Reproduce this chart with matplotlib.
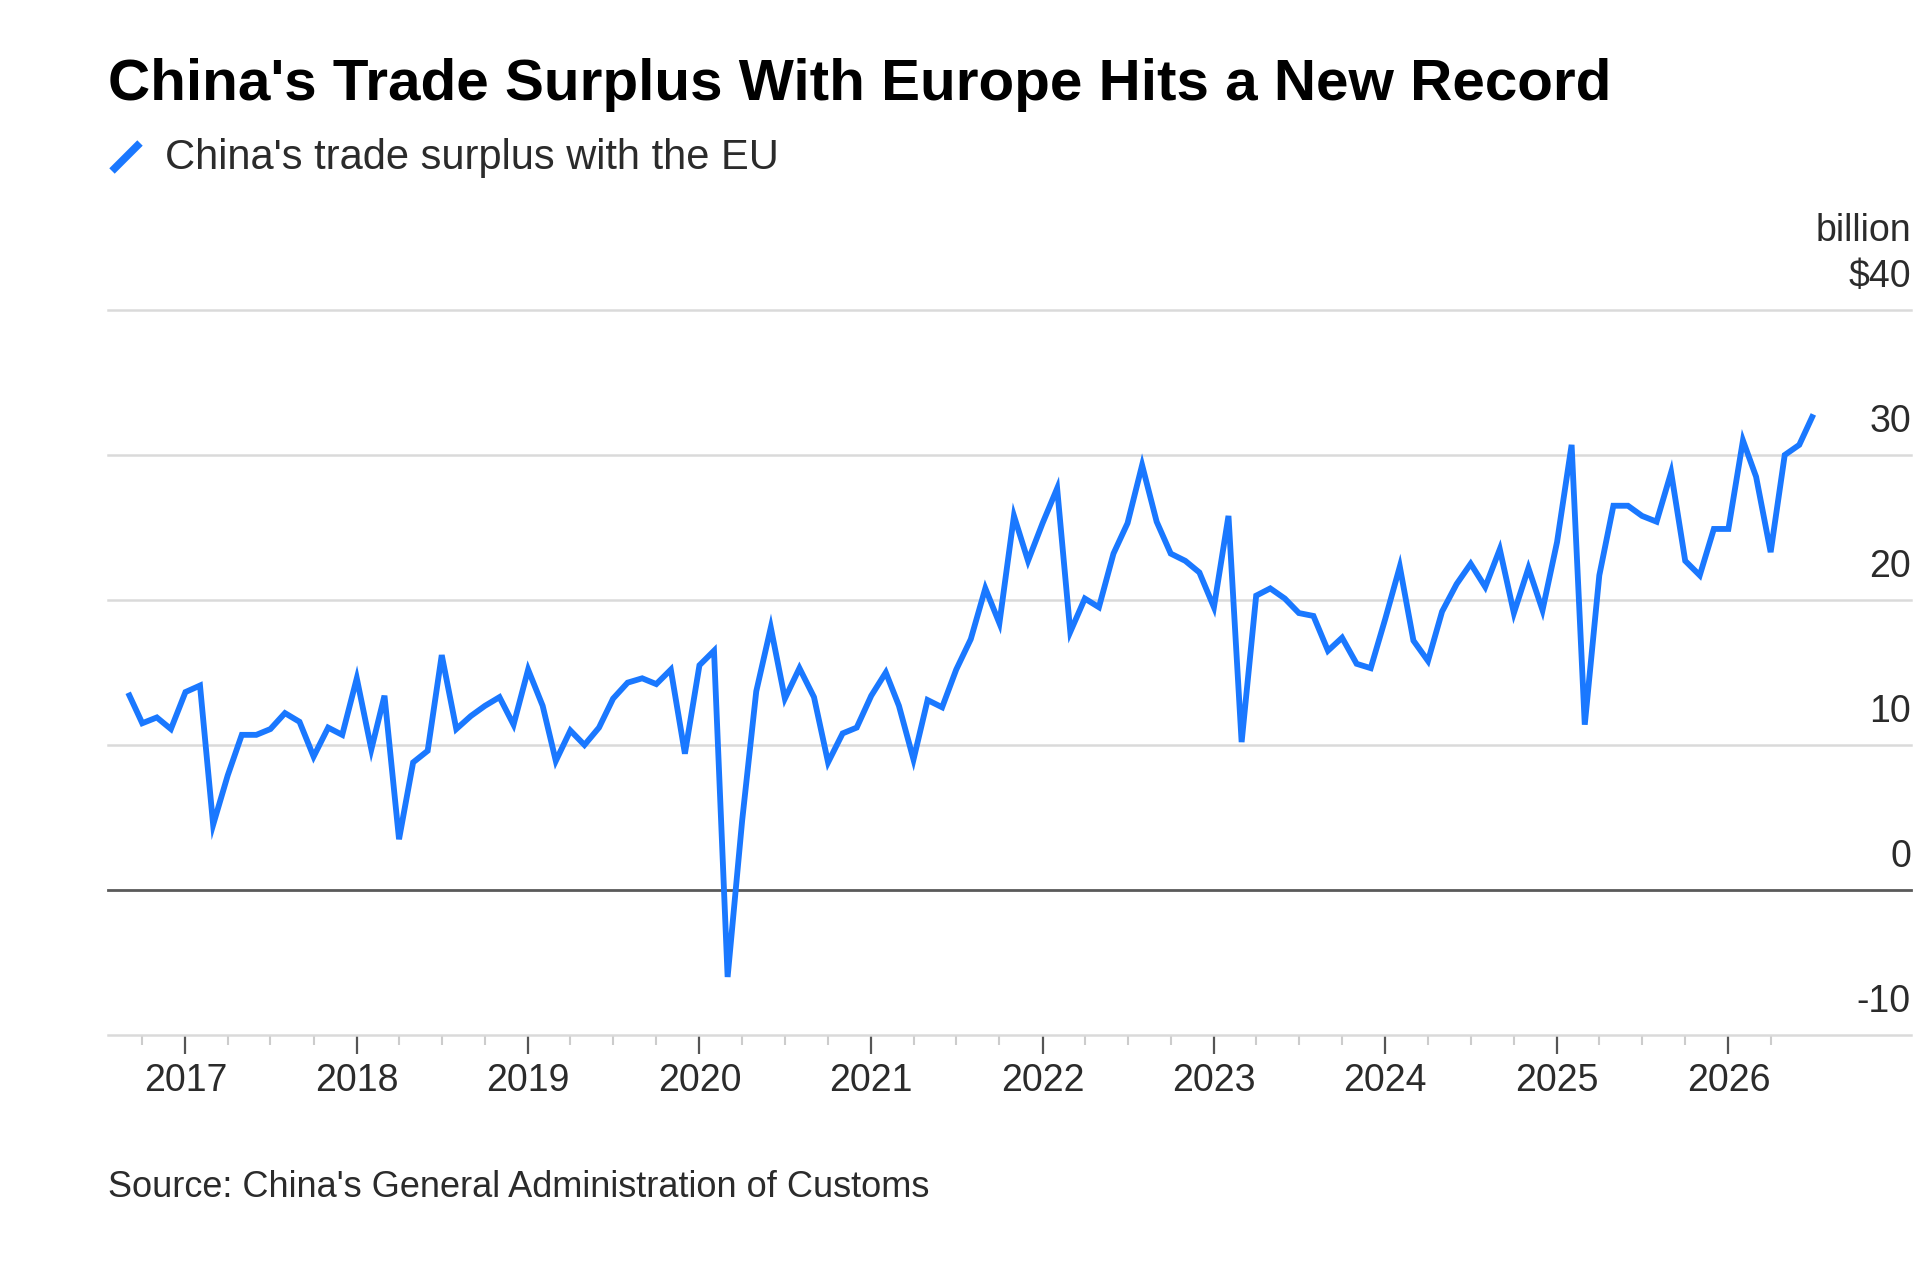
import matplotlib
matplotlib.use('Agg')
import matplotlib.pyplot as plt
import matplotlib.dates as mdates
import matplotlib.ticker as mticker
import pandas as pd
from matplotlib.lines import Line2D

plt.rcParams['font.family'] = ['Liberation Sans', 'DejaVu Sans']

# ---- data ----
start_month = '2016-09-01'
surplus = [
    13.6, 11.5, 11.9, 11.1,                                            # 2016 Sep-Dec
    13.65, 14.1, 4.5, 7.9, 10.7, 10.7, 11.1, 12.2, 11.6, 9.2, 11.2, 10.7,  # 2017
    14.6, 9.7, 13.4, 3.5, 8.8, 9.6, 16.2, 11.1, 12.0, 12.7, 13.3, 11.4,     # 2018
    15.2, 12.7, 8.9, 11.0, 10.0, 11.2, 13.2, 14.3, 14.6, 14.2, 15.2, 9.4,   # 2019
    15.5, 16.5, -6.0, 4.8, 13.7, 18.1, 13.2, 15.3, 13.3, 8.8, 10.8, 11.2,   # 2020
    13.4, 15.0, 12.7, 9.0, 13.1, 12.6, 15.2, 17.3, 20.8, 18.4, 25.8, 22.7,  # 2021
    25.3, 27.7, 17.8, 20.1, 19.5, 23.2, 25.3, 29.3, 25.4, 23.2, 22.7, 21.9, # 2022
    19.5, 25.8, 10.2, 20.3, 20.8, 20.1, 19.1, 18.9, 16.5, 17.4, 15.6, 15.3, # 2023
    18.7, 22.3, 17.2, 15.8, 19.2, 21.1, 22.5, 20.9, 23.5, 19.1, 22.2, 19.3, # 2024
    24.0, 30.7, 11.4, 21.7, 26.5, 26.5, 25.8, 25.4, 28.8, 22.7, 21.7, 24.9, # 2025
    24.9, 31.0, 28.5, 23.3, 30.0, 30.7, 32.8,                               # 2026 Jan-Jul
]
months = pd.date_range(start_month, periods=len(surplus), freq='MS')

year_ticks = list(range(2017, 2027))
y_ticks = [-10, 0, 10, 20, 30, 40]
y_tick_labels = ['-10', '0', '10', '20', '30', '$40']
unit_label = 'billion'

title = "China's Trade Surplus With Europe Hits a New Record"
series_label = "China's trade surplus with the EU"
source = "Source: China's General Administration of Customs"

# ---- style ----
W, H = 1920, 1281
LINE_BLUE = '#1a78ff'
GRID = '#dadada'
ZERO = '#5a5a5a'
TXT = '#2b2b2b'

fig = plt.figure(figsize=(W / 100, H / 100), dpi=100)
fig.patch.set_facecolor('white')

ax_l, ax_r, ax_t, ax_b = 108, 1911, 310, 1035
ax = fig.add_axes([ax_l / W, 1 - ax_b / H, (ax_r - ax_l) / W, (ax_b - ax_t) / H])

ax.set_ylim(y_ticks[0], y_ticks[-1])
ax.set_xlim(pd.Timestamp('2016-07-20'), pd.Timestamp('2027-01-25'))

for v in y_ticks[1:]:
    if v == 0:
        ax.axhline(v, color=ZERO, lw=2.0, zorder=2, clip_on=False)
    else:
        ax.axhline(v, color=GRID, lw=1.8, zorder=1, clip_on=False)

ax.plot(months, surplus, color=LINE_BLUE, lw=4.2, solid_joinstyle='miter',
        solid_capstyle='butt', zorder=3)

for s in ['top', 'left', 'right']:
    ax.spines[s].set_visible(False)
ax.spines['bottom'].set_color(GRID)
ax.spines['bottom'].set_linewidth(1.8)

ax.set_yticks([])
major_dates = [pd.Timestamp(f'{y}-01-01') for y in year_ticks]
minor_dates = [d for d in pd.date_range(months[0], months[-1], freq='MS')
               if d.month in (4, 7, 10) and d < months[-1]]
ax.xaxis.set_major_locator(mticker.FixedLocator(mdates.date2num(major_dates)))
ax.xaxis.set_major_formatter(mdates.DateFormatter('%Y'))
ax.xaxis.set_minor_locator(mticker.FixedLocator(mdates.date2num(minor_dates)))
ax.tick_params(axis='x', which='major', length=14, width=1.6, color='#555555',
               labelsize=27, labelcolor=TXT, pad=6)
ax.tick_params(axis='x', which='minor', length=7, width=1.5, color='#cccccc')

ytrans = ax.get_yaxis_transform()
for v, lab in zip(y_ticks, y_tick_labels):
    ax.annotate(lab, xy=(1.0, v), xycoords=ytrans, xytext=(0, 11),
                textcoords='offset points', ha='right', va='bottom',
                fontsize=27, color=TXT, annotation_clip=False)
ax.annotate(unit_label, xy=(1.0, y_ticks[-1]), xycoords=ytrans, xytext=(0, 44),
            textcoords='offset points', ha='right', va='bottom',
            fontsize=27, color=TXT, annotation_clip=False)

# title, legend, source
fig.text(108 / W, 1 - 100 / H, title, fontsize=42, fontweight='bold',
         color='black', ha='left', va='baseline')
fig.add_artist(Line2D([112 / W, 140 / W], [1 - 171 / H, 1 - 143 / H],
                      transform=fig.transFigure, color=LINE_BLUE, lw=5.5,
                      solid_capstyle='butt'))
fig.text(165 / W, 1 - 169 / H, series_label, fontsize=30, color=TXT,
         ha='left', va='baseline')
fig.text(108 / W, 1 - 1197 / H, source, fontsize=26, color=TXT,
         ha='left', va='baseline')

fig.savefig('out.png', dpi=100, facecolor='white')
